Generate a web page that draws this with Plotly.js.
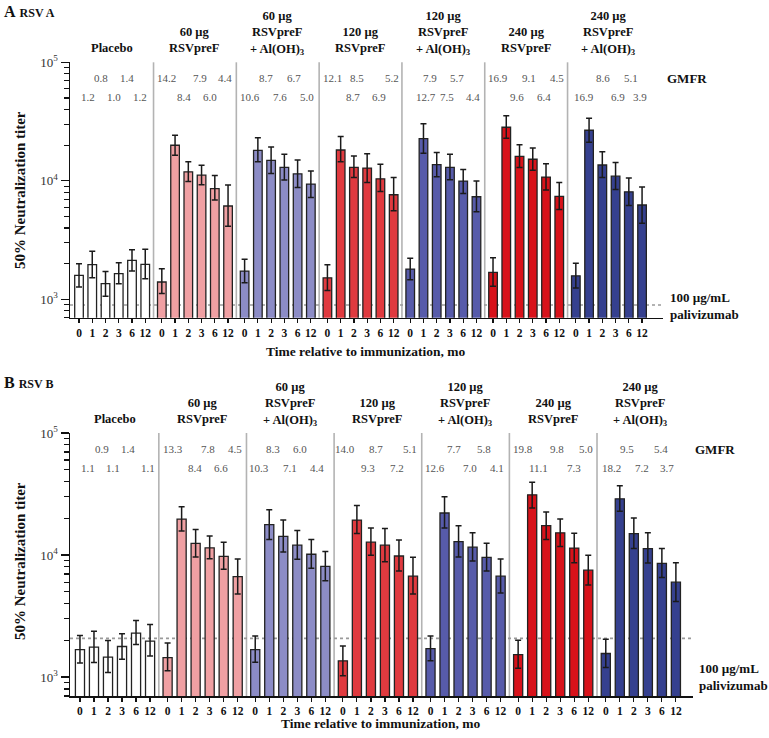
<!DOCTYPE html>
<html>
<head>
<meta charset="utf-8">
<script src="https://cdn.plot.ly/plotly-3.0.1.min.js"></script>
<style>html,body{margin:0;padding:0;background:#fff;}</style>
</head>
<body>
<div id="chart" style="width:769px;height:738px;"></div>
<script>
// ---------------- DATA ----------------
const groupTitles = [
  ['Placebo'],
  ['60 µg', 'RSVpreF'],
  ['60 µg', 'RSVpreF', '+ Al(OH)<sub>3</sub>'],
  ['120 µg', 'RSVpreF'],
  ['120 µg', 'RSVpreF', '+ Al(OH)<sub>3</sub>'],
  ['240 µg', 'RSVpreF'],
  ['240 µg', 'RSVpreF', '+ Al(OH)<sub>3</sub>']
];
const timeLabels = ['0', '1', '2', '3', '6', '12'];

// RSV A: geometric mean titers, upper and lower 95% CI
const rsvA_gmt = [
  [1590, 1960, 1355, 1650, 2130, 1970],
  [1400, 19950, 11900, 11150, 8600, 6130],
  [1730, 18100, 14900, 13000, 11450, 9380],
  [1520, 18200, 13000, 12800, 10400, 7630],
  [1800, 22700, 13700, 13000, 9940, 7340],
  [1690, 28300, 16100, 15200, 10750, 7380],
  [1580, 26700, 13600, 10950, 8080, 6250]
];
const rsvA_upper = [
  [1995, 2545, 1720, 2035, 2620, 2650],
  [1810, 24200, 14500, 13550, 11100, 9200],
  [2180, 23100, 19300, 16750, 15000, 12100],
  [1960, 23600, 16200, 16950, 13800, 10650],
  [2220, 30300, 17300, 16750, 12450, 9940],
  [2240, 35400, 20200, 18950, 13950, 9680],
  [2020, 33650, 17600, 14250, 10550, 8850]
];
const rsvA_lower = [
  [1270, 1520, 1060, 1355, 1730, 1495],
  [1120, 16450, 9860, 9250, 6880, 4130],
  [1380, 14450, 11500, 10150, 8780, 7240],
  [1190, 14450, 10650, 9670, 8130, 5600],
  [1460, 17100, 10800, 10200, 7820, 5490],
  [1290, 22850, 12950, 12300, 8350, 5740],
  [1245, 21150, 10650, 8450, 6200, 4380]
];
// RSV B
const rsvB_gmt = [
  [1680, 1760, 1460, 1780, 2290, 1970],
  [1445, 19700, 12450, 11450, 9760, 6660],
  [1680, 17750, 14200, 12050, 10150, 8090],
  [1360, 19350, 12750, 12050, 9820, 6710],
  [1710, 22100, 12900, 11600, 9580, 6710],
  [1530, 31150, 17400, 15200, 11400, 7510],
  [1560, 28900, 15000, 11300, 8560, 5990]
];
const rsvB_upper = [
  [2195, 2380, 1990, 2265, 2905, 2700],
  [1900, 24900, 16200, 14350, 12750, 9280],
  [2170, 23500, 19350, 15900, 13400, 10700],
  [1800, 25500, 16650, 16500, 13300, 9580],
  [2170, 30000, 17400, 15200, 12500, 9280],
  [2000, 39450, 22500, 19700, 15100, 9940],
  [2040, 37050, 20100, 15200, 11300, 8660]
];
const rsvB_lower = [
  [1305, 1315, 1090, 1400, 1845, 1490],
  [1125, 15750, 9630, 9330, 7650, 4790],
  [1325, 13400, 10600, 9230, 7800, 6150],
  [1025, 15000, 9940, 8830, 7410, 4790],
  [1360, 16650, 9630, 8940, 7410, 4880],
  [1180, 24250, 13400, 11750, 8660, 5670],
  [1200, 22800, 11300, 8610, 6540, 4170]
];
// GMFR values (months 1, 2, 3, 6, 12)
const gmfrA = [
  ['1.2', '0.8', '1.0', '1.4', '1.2'],
  ['14.2', '8.4', '7.9', '6.0', '4.4'],
  ['10.6', '8.7', '7.6', '6.7', '5.0'],
  ['12.1', '8.7', '8.5', '6.9', '5.2'],
  ['12.7', '7.9', '7.5', '5.7', '4.4'],
  ['16.9', '9.6', '9.1', '6.4', '4.5'],
  ['16.9', '8.6', '6.9', '5.1', '3.9']
];
const gmfrB = [
  ['1.1', '0.9', '1.1', '1.4', '1.1'],
  ['13.3', '8.4', '7.8', '6.6', '4.5'],
  ['10.3', '8.3', '7.1', '6.0', '4.4'],
  ['14.0', '9.3', '8.7', '7.2', '5.1'],
  ['12.6', '7.7', '7.0', '5.8', '4.1'],
  ['19.8', '11.1', '9.8', '7.3', '5.0'],
  ['18.2', '9.5', '7.2', '5.4', '3.7']
];
const palivizumabA = 895;
const palivizumabB = 2075;

// ---------------- STYLE / LAYOUT HELPERS ----------------
const W = 769, H = 738;
const FONT = 'Liberation Serif, Times New Roman, serif';
const colors = ['#ffffff', '#f0a0a3', '#8c8cc6', '#e03a3f', '#575baa', '#d8121a', '#35408f'];
const GROUP_STEP = 6.25;
// label x-offsets (within group, in bar units) for the GMFR numbers
const gmfrPosA = [[0.68,1.64,2.64,3.62,4.60],[0.32,1.68,2.88,3.64,4.77],[0.41,1.62,2.67,3.73,4.71],[0.42,1.93,2.23,3.89,4.87],[1.18,1.49,2.77,3.52,4.73],[0.37,1.80,2.71,3.84,4.82],[0.61,2.05,3.18,4.16,4.84]];
const gmfrPosB = [[0.57,1.57,2.35,3.42,4.85],[0.39,1.95,2.88,3.81,4.81],[0.27,1.27,2.48,3.20,4.41],[0.15,1.79,2.36,3.86,4.79],[0.32,1.68,2.82,3.82,4.74],[0.35,1.42,2.77,3.99,4.84],[0.38,1.52,2.58,3.94,4.37]];
const py = p => 1 - p / H;
const px = p => p / W;

const barX = (g) => timeLabels.map((_, k) => g * GROUP_STEP + k);

const traces = [];
function addPanel(gmt, up, lo, xa, ya) {
  gmt.forEach((vals, g) => {
    traces.push({
      type: 'bar',
      x: barX(g),
      y: vals,
      xaxis: xa, yaxis: ya,
      width: 0.65,
      marker: { color: colors[g], line: { color: '#222', width: 1.3 } },
      error_y: {
        type: 'data', symmetric: false,
        array: vals.map((v, i) => up[g][i] - v),
        arrayminus: vals.map((v, i) => v - lo[g][i]),
        color: '#1a1a1a', thickness: 1.5, width: 3
      },
      hoverinfo: 'skip',
      showlegend: false
    });
  });
}
addPanel(rsvA_gmt, rsvA_upper, rsvA_lower, 'x', 'y');
addPanel(rsvB_gmt, rsvB_upper, rsvB_lower, 'x2', 'y2');

const allX = [], allText = [];
groupTitles.forEach((_, g) => barX(g).forEach((x, k) => { allX.push(x); allText.push(timeLabels[k]); }));

const minorVals = [700, 800, 900, 2000, 3000, 4000, 5000, 6000, 7000, 8000, 9000,
  20000, 30000, 40000, 50000, 60000, 70000, 80000, 90000];

function xAxis(domainPx, rng, anchor) {
  return {
    domain: [px(domainPx[0]), px(domainPx[1])], range: rng, anchor: anchor,
    showline: true, linecolor: '#111', linewidth: 1.5, mirror: false,
    showgrid: false, zeroline: false,
    ticks: 'outside', ticklen: 4, tickwidth: 1.2, tickcolor: '#111',
    tickmode: 'array', tickvals: allX, ticktext: allText,
    tickfont: { family: FONT, size: 11.5, color: '#111', weight: 'bold' },
    fixedrange: true
  };
}
function yAxis(domainPx, anchor) {
  return {
    type: 'log', range: [2.845, 5],
    domain: [py(domainPx[1]), py(domainPx[0])], anchor: anchor,
    showline: true, linecolor: '#111', linewidth: 1.5,
    showgrid: false, zeroline: false,
    ticks: 'outside', ticklen: 8, tickwidth: 1.2, tickcolor: '#111',
    tickmode: 'array', tickvals: [1000, 10000, 100000],
    ticktext: ['10<sup>3</sup>', '10<sup>4</sup>', '10<sup>5</sup>'],
    tickfont: { family: FONT, size: 13, color: '#333' },
    minor: { tickmode: 'array', tickvals: minorVals, ticks: 'outside', ticklen: 5, tickwidth: 1.2, tickcolor: '#111', showgrid: false },
    fixedrange: true
  };
}

const shapes = [];
const annotations = [];

function panelDecor(xa, ya, yOff, pal, gmfr, gmfrPos, gmfrLabelX, palX, xTitleX) {
  // separators
  for (let g = 1; g < groupTitles.length; g++) {
    const xs = g * GROUP_STEP - 0.625;
    shapes.push({ type: 'line', xref: xa, yref: ya + ' domain', x0: xs, x1: xs, y0: 0, y1: 1,
      line: { color: '#b3b3b3', width: 1.6 }, layer: 'below' });
  }
  // palivizumab reference
  shapes.push({ type: 'line', xref: xa + ' domain', yref: ya, x0: 0, x1: 1, y0: pal, y1: pal,
    line: { color: '#9a9a9a', width: 1.6, dash: 'dot' }, layer: 'below' });
  // group titles: one annotation per group, lines joined, bottom-anchored
  groupTitles.forEach((lines, g) => {
    const bottom = lines.length === 3 ? 59 : 57;
    annotations.push({ xref: xa, yref: 'paper', x: g * GROUP_STEP + 2.5, y: py(bottom + yOff),
      text: lines.map(t => '<b>' + t + '</b>').join('<br>'), showarrow: false,
      xanchor: 'center', yanchor: 'bottom', align: 'center',
      font: { family: FONT, size: 12.5, color: '#111' } });
  });
  // GMFR numbers
  gmfr.forEach((vals, g) => {
    const startLower = (g % 2 === 0);
    vals.forEach((v, i) => {
      const lower = startLower ? (i % 2 === 0) : (i % 2 === 1);
      annotations.push({ xref: xa, yref: 'paper', x: g * GROUP_STEP + gmfrPos[g][i],
        y: py((lower ? 97 : 78) + yOff), text: v, showarrow: false, xanchor: 'center', yanchor: 'middle',
        font: { family: FONT, size: 11, color: '#555' } });
    });
  });
  annotations.push({ xref: 'paper', yref: 'paper', x: px(gmfrLabelX), y: py(78 + yOff), text: '<b>GMFR</b>',
    showarrow: false, xanchor: 'center', yanchor: 'middle', font: { family: FONT, size: 13, color: '#111' } });
  annotations.push({ xref: 'paper', yref: 'paper', x: px(palX), y: py(306 + yOff),
    text: '<b>100 µg/mL</b><br><b>palivizumab</b>', align: 'left',
    showarrow: false, xanchor: 'left', yanchor: 'middle', font: { family: FONT, size: 13, color: '#111' } });
  // axis titles
  annotations.push({ xref: 'paper', yref: 'paper', x: px(xTitleX), y: py(352 + yOff),
    text: '<b>Time relative to immunization, mo</b>', showarrow: false, xanchor: 'center', yanchor: 'middle',
    font: { family: FONT, size: 13.5, color: '#111' } });
  annotations.push({ xref: 'paper', yref: 'paper', x: px(20), y: py(190 + yOff),
    text: '<b>50% Neutralization titer</b>', showarrow: false, textangle: -90, xanchor: 'center', yanchor: 'middle',
    font: { family: FONT, size: 15, color: '#111' } });
}
panelDecor('x', 'y', 0, palivizumabA, gmfrA, gmfrPosA, 687, 668, 366);
panelDecor('x2', 'y2', 371, palivizumabB, gmfrB, gmfrPosB, 715, 697, 381);

annotations.push({ xref: 'paper', yref: 'paper', x: px(2), y: py(11), xanchor: 'left', yanchor: 'middle', showarrow: false,
  text: '<b>A</b> <b><span style="font-size:12px">RSV A</span></b>', font: { family: FONT, size: 16, color: '#111' } });
annotations.push({ xref: 'paper', yref: 'paper', x: px(2), y: py(382), xanchor: 'left', yanchor: 'middle', showarrow: false,
  text: '<b>B</b> <b><span style="font-size:12px">RSV B</span></b>', font: { family: FONT, size: 16, color: '#111' } });

const layout = {
  width: W, height: H,
  margin: { l: 0, r: 0, t: 0, b: 0 },
  paper_bgcolor: '#ffffff', plot_bgcolor: 'rgba(0,0,0,0)',
  barmode: 'overlay',
  showlegend: false,
  font: { family: FONT },
  xaxis: xAxis([70, 663], [-0.68, 44.08], 'y'),
  yaxis: yAxis([62.3, 317.7], 'x'),
  xaxis2: xAxis([70, 693], [-0.71, 43.72], 'y2'),
  yaxis2: yAxis([433, 696], 'x2'),
  shapes: shapes,
  annotations: annotations
};

Plotly.newPlot('chart', traces, layout, { staticPlot: true, displayModeBar: false });
</script>
</body>
</html>
